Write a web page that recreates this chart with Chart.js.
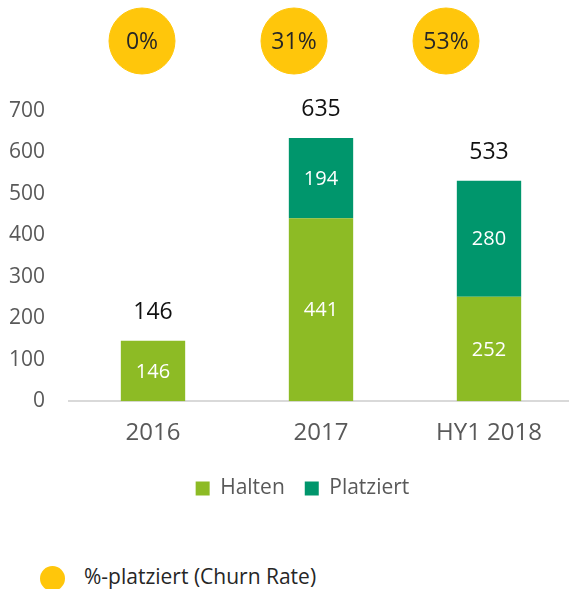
<!DOCTYPE html>
<html>
<head>
<meta charset="utf-8">
<script src="https://cdn.jsdelivr.net/npm/chart.js@4"></script>
<style>
  html, body { margin: 0; background: #fff; font-family: "Open Sans", sans-serif; overflow: hidden; }
  #wrap { position: relative; width: 569px; height: 589px; overflow: hidden; }
  #bars { position: absolute; left: 0; top: 0; }
  #rates { position: absolute; left: 0; top: 0; }
  #churnKey { position: absolute; left: 40px; top: 565px; font-size: 21px; color: #262626; line-height: 26px; }
  #churnKey .dot { position: absolute; left: 0; top: 1px; width: 25px; height: 25px; border-radius: 50%; background: #FFC60B; }
  #churnKey span.txt { position: absolute; left: 44px; top: -2px; white-space: nowrap; }
</style>
</head>
<body>
<div id="wrap">
  <canvas id="bars" width="597" height="530"></canvas>
  <canvas id="rates" width="569" height="82"></canvas>
  <div id="churnKey"><div class="dot"></div><span class="txt">%-platziert (Churn Rate)</span></div>
</div>
<script>
// data
const years = ["2016", "2017", "HY1 2018"];
const halten = [146, 441, 252];
const platziert = [0, 194, 280];
const totals = [146, 635, 533];
const churnRate = [0, 31, 53];
const yTicks = [0, 100, 200, 300, 400, 500, 600, 700];

const GREEN = "#8DBB25";
const TEAL = "#00966C";
const YELLOW = "#FFC60B";
const FONT = "'Open Sans', sans-serif";

/* value labels in the bars + totals above */
const barLabels = {
    id: "barLabels",
    afterDatasetsDraw(chart) {
        const ctx = chart.ctx;
        ctx.save();
        ctx.textAlign = "center";
        ctx.textBaseline = "middle";
        chart.data.datasets.forEach((ds, di) => {
            chart.getDatasetMeta(di).data.forEach((bar, i) => {
                if (!ds.data[i]) return;
                const p = bar.getProps(["x", "y", "base"], true);
                ctx.fillStyle = "#fff";
                ctx.font = "20px " + FONT;
                ctx.fillText(ds.data[i], p.x, (p.y + p.base) / 2 + 1);
            });
        });
        // totals
        const last = chart.getDatasetMeta(chart.data.datasets.length - 1).data;
        const first = chart.getDatasetMeta(0).data;
        totals.forEach((t, i) => {
            const top = platziert[i] ? last[i].y : first[i].y;
            ctx.fillStyle = "#111";
            ctx.font = "23px " + FONT;
            ctx.fillText(t, first[i].x, top - 28);
        });
        ctx.restore();
    }
};

new Chart(document.getElementById("bars"), {
    type: "bar",
    data: {
        labels: years,
        datasets: [
            { label: "Halten", data: halten, backgroundColor: GREEN },
            { label: "Platziert", data: platziert, backgroundColor: TEAL }
        ]
    },
    options: {
        responsive: false,
        animation: false,
        layout: { padding: { top: 111, left: 8, right: 0, bottom: 21 } },
        datasets: { bar: { categoryPercentage: 1, barPercentage: 0.383 } },
        scales: {
            x: {
                stacked: true,
                grid: { display: false },
                border: { display: true, color: "#D9D9D9", width: 2 },
                ticks: { color: "#595959", font: { family: FONT, size: 24 }, padding: 10 }
            },
            y: {
                stacked: true,
                min: 0,
                max: 700,
                afterBuildTicks: (axis) => { axis.ticks = yTicks.map(v => ({ value: v })); },
                afterFit: (axis) => { axis.width = 61; },
                grid: { display: false },
                border: { display: false },
                ticks: { color: "#595959", font: { family: FONT, size: 21 }, padding: 16 }
            },
            // empty spacer on the right so the plot runs to the page edge
            spacer: {
                type: "linear",
                position: "right",
                grid: { display: false },
                border: { display: false },
                ticks: { display: false },
                afterFit: (axis) => { axis.width = 24; }
            }
        },
        plugins: {
            legend: {
                position: "bottom",
                labels: {
                    color: "#595959",
                    font: { family: FONT, size: 21 },
                    boxWidth: 14,
                    boxHeight: 14,
                    padding: 20
                }
            },
            tooltip: { enabled: false }
        }
    },
    plugins: [barLabels]
});

/* churn-rate circles */
const rateLabels = {
    id: "rateLabels",
    afterDatasetsDraw(chart) {
        const ctx = chart.ctx;
        ctx.save();
        ctx.textAlign = "center";
        ctx.textBaseline = "middle";
        ctx.fillStyle = "#262626";
        ctx.font = "23px " + FONT;
        chart.getDatasetMeta(0).data.forEach((pt, i) => {
            ctx.fillText(churnRate[i] + "%", pt.x, pt.y + 1);
        });
        ctx.restore();
    }
};

new Chart(document.getElementById("rates"), {
    type: "scatter",
    data: {
        datasets: [{
            label: "%-platziert (Churn Rate)",
            data: years.map((y, i) => ({ x: y, y: "rate", v: churnRate[i] })),
            backgroundColor: YELLOW,
            borderColor: YELLOW,
            pointRadius: 33,
            pointHoverRadius: 33
        }]
    },
    options: {
        responsive: false,
        animation: false,
        layout: { padding: { left: 66, right: 47, top: 0, bottom: 0 } },
        scales: {
            x: { type: "category", labels: years, offset: true, display: false },
            y: { type: "category", labels: ["rate"], offset: true, display: false }
        },
        plugins: { legend: { display: false }, tooltip: { enabled: false } }
    },
    plugins: [rateLabels]
});
</script>
</body>
</html>
